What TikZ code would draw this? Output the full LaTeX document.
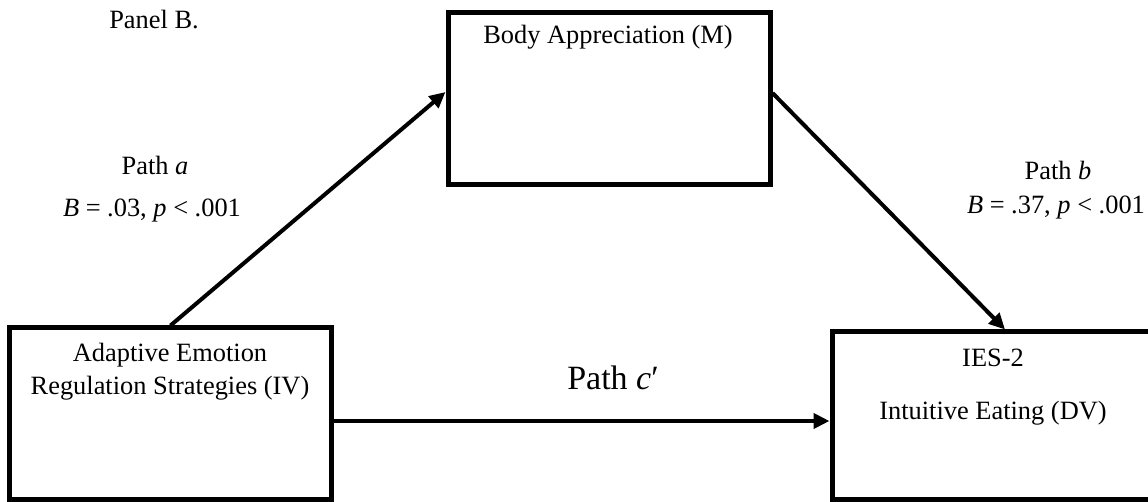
\documentclass[tikz,border=0pt]{standalone}
\usepackage{fontspec}
\setmainfont{Liberation Serif}
\usetikzlibrary{arrows.meta,calc}
\tikzset{
  box/.style={draw, line width=2.5pt, minimum width=161pt, minimum height=86pt, inner sep=0pt},
  txt/.style={inner sep=0pt, font=\fontsize{13.2}{16}\selectfont},
  bigtxt/.style={inner sep=0pt, font=\fontsize{17}{20}\selectfont},
  arr/.style={line width=2pt, -{Triangle[length=8pt,width=7.5pt]}}
}
\begin{document}
\begin{tikzpicture}[x=0.5pt,y=-0.5pt]
\useasboundingbox (0,0) rectangle (1148,502);
\clip (0,0) rectangle (1148,502);
\node[box] (iv) at (170.5,414) {};
\node[box] (m) at (609,99) {};
\node[box, minimum height=84pt] (dv) at (993,416) {};
\node[txt] (panel) at (154,20) {Panel B.};
\node[txt] (mt) at (608,37) {Body Appreciation (M)};
\node[txt] (ivt1) at (170,355) {Adaptive Emotion};
\node[txt] (ivt2) at (170,388) {Regulation Strategies (IV)};
\node[txt] (dvt1) at (993,358) {IES-2};
\node[txt] (dvt2) at (993,413) {Intuitive Eating (DV)};
\node[txt] (pa) at (155,165) {Path \textit{a}};
\node[txt] (pab) at (152,211) {\textit{B} = .03, \textit{p} < .001};
\node[txt] (pb) at (1058,170) {Path \textit{b}};
\node[txt] (pbb) at (1056,208) {\textit{B} = .37, \textit{p} < .001};
\node[bigtxt] (pc) at (613,378) {Path \textit{c}′};
\draw[arr] (iv.north) -- ($(m.west)+(0,-7)$);
\draw[arr] ($(m.east)+(0,-6)$) -- ($(dv.north)+(12,0)$);
\draw[arr] (iv.east |- 0,421) -- (dv.west |- 0,421);
\end{tikzpicture}
\end{document}
